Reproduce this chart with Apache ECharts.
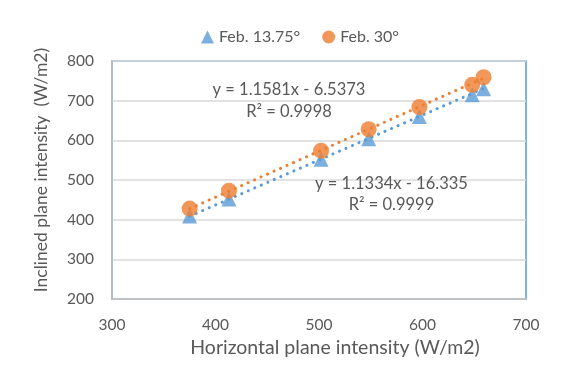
<!DOCTYPE html>
<html>
<head>
<meta charset="utf-8">
<script src="https://cdn.jsdelivr.net/npm/echarts@6/dist/echarts.min.js"></script>
<style>
  html, body { margin: 0; padding: 0; background: #ffffff; }
  #chart { width: 572px; height: 367px; }
</style>
</head>
<body>
<div id="chart"></div>
<script>
// Horizontal vs inclined plane irradiance, two tilt angles in February
const horizontal = [375, 413, 502, 548, 597, 648, 659];
const inclinedTilt1375 = [409, 452, 552, 604, 660, 715, 730];
const inclinedTilt30 = [428, 473, 574, 628, 684, 740, 759];

// Linear fits: [slope, intercept, R²]
const fit1375 = [1.1334, -16.335, 0.9999];
const fit30 = [1.1581, -6.5373, 0.9998];

const seriesNames = ['Feb. 13.75°', 'Feb. 30°'];
const xTicks = [300, 400, 500, 600, 700];
const yTicks = [200, 300, 400, 500, 600, 700, 800];

const BLUE = '#5B9BD5';
const ORANGE = '#ED7D31';
const TEXT = '#595959';
const FONT = 'Lato, "Open Sans", sans-serif';

function pairs(xs, ys) {
  return xs.map((x, i) => [x, ys[i]]);
}
function fitLine(fit) {
  const lo = Math.min(...horizontal);
  const hi = Math.max(...horizontal);
  return [[lo, fit[0] * lo + fit[1]], [hi, fit[0] * hi + fit[1]]];
}
function eqText(fit) {
  const b = fit[1];
  return 'y = ' + fit[0] + 'x ' + (b < 0 ? '- ' : '+ ') + Math.abs(b);
}

const chart = echarts.init(document.getElementById('chart'), null, { renderer: 'canvas' });

const dotted = (color) => ({
  color: color,
  width: 3,
  type: [0.1, 7],
  cap: 'round'
});

chart.setOption({
  animation: false,
  backgroundColor: '#ffffff',
  textStyle: { fontFamily: FONT },
  legend: {
    data: [
      { name: seriesNames[0], icon: 'triangle' },
      { name: seriesNames[1], icon: 'circle' }
    ],
    left: 196,
    top: 24,
    itemWidth: 13,
    itemHeight: 13,
    itemGap: 22,
    textStyle: { color: TEXT, fontSize: 16, fontFamily: FONT }
  },
  grid: {
    left: 112,
    right: 46,
    top: 61,
    bottom: 68,
    show: true,
    borderColor: BLUE,
    borderWidth: 1.5,
    backgroundColor: 'transparent'
  },
  xAxis: {
    type: 'value',
    min: xTicks[0],
    max: xTicks[xTicks.length - 1],
    interval: 100,
    name: 'Horizontal plane intensity (W/m2)',
    nameLocation: 'middle',
    nameGap: 36,
    nameTextStyle: { color: TEXT, fontSize: 19.5, fontFamily: FONT, padding: [0, 0, 0, 32] },
    axisLine: { show: true, lineStyle: { color: '#BFBFBF', width: 1.5 } },
    axisTick: { show: false },
    splitLine: { show: false },
    axisLabel: { color: TEXT, fontSize: 15.5, margin: 18, fontFamily: FONT }
  },
  yAxis: {
    type: 'value',
    min: yTicks[0],
    max: yTicks[yTicks.length - 1],
    interval: 100,
    name: 'Inclined plane intensity  (W/m2)',
    nameLocation: 'middle',
    nameGap: 62,
    nameTextStyle: { color: TEXT, fontSize: 17.5, fontFamily: FONT, padding: [0, 0, 0, 20] },
    axisLine: { show: true, lineStyle: { color: '#BFBFBF', width: 1.5 } },
    axisTick: { show: false },
    splitLine: { show: true, lineStyle: { color: '#D9D9D9', width: 1.5 } },
    axisLabel: { color: TEXT, fontSize: 15.5, margin: 18, fontFamily: FONT }
  },
  series: [
    {
      name: 'trend-13.75',
      type: 'line',
      data: fitLine(fit1375),
      symbol: 'none',
      lineStyle: dotted(BLUE),
      z: 1,
      silent: true
    },
    {
      name: 'trend-30',
      type: 'line',
      data: fitLine(fit30),
      symbol: 'none',
      lineStyle: dotted(ORANGE),
      z: 1,
      silent: true
    },
    {
      name: seriesNames[0],
      type: 'scatter',
      data: pairs(horizontal, inclinedTilt1375),
      symbol: 'triangle',
      symbolSize: 15,
      itemStyle: { color: BLUE },
      z: 2
    },
    {
      name: seriesNames[1],
      type: 'scatter',
      data: pairs(horizontal, inclinedTilt30),
      symbol: 'circle',
      symbolSize: 16,
      itemStyle: { color: ORANGE },
      z: 3
    }
  ]
});

// Regression equation annotations, anchored in data space
const notes = [
  { at: [471, 727], text: eqText(fit30) },
  { at: [471, 671], text: 'R² = ' + fit30[2] },
  { at: [570, 492], text: eqText(fit1375) },
  { at: [570, 437], text: 'R² = ' + fit1375[2] }
];
chart.setOption({
  graphic: notes.map((n) => {
    const p = chart.convertToPixel({ gridIndex: 0 }, n.at);
    return {
      type: 'text',
      x: p[0],
      y: p[1],
      z: 10,
      style: {
        text: n.text,
        fill: TEXT,
        font: '16.5px ' + FONT,
        align: 'center',
        verticalAlign: 'middle'
      }
    };
  })
});
</script>
</body>
</html>
